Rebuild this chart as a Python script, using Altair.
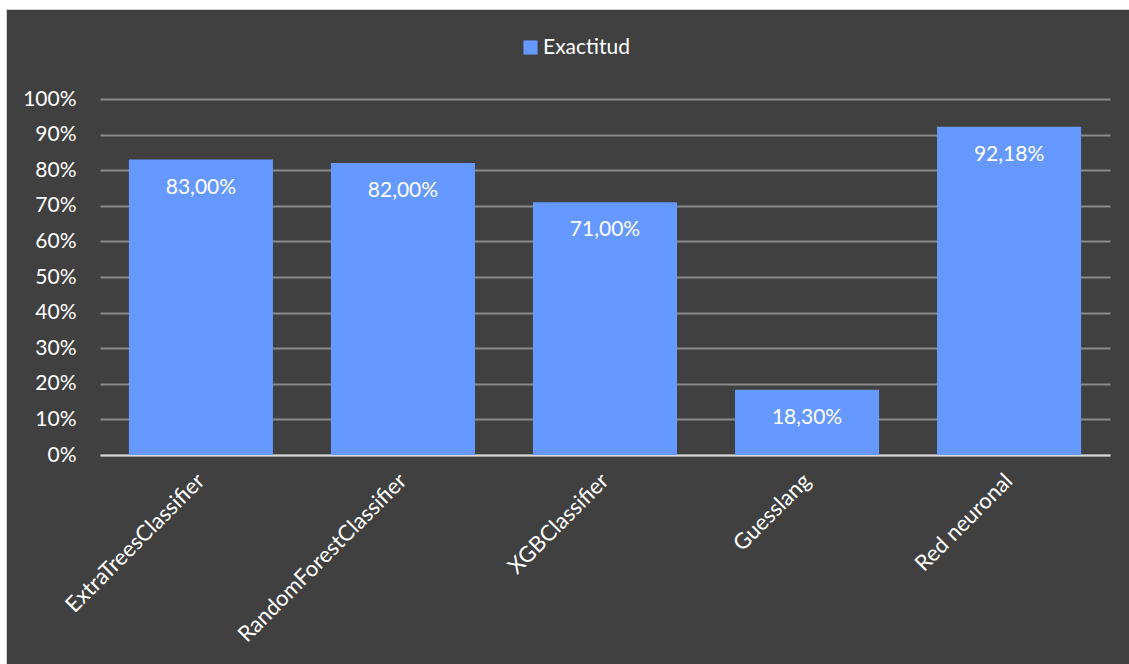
import altair as alt
import pandas as pd

models = ["ExtraTreesClassifier", "RandomForestClassifier", "XGBClassifier", "Guesslang", "Red neuronal"]
accuracy_pct = [83.00, 82.00, 71.00, 18.30, 92.18]
series_name = "Exactitud"
y_ticks = [0, 0.1, 0.2, 0.3, 0.4, 0.5, 0.6, 0.7, 0.8, 0.9, 1.0]

df = pd.DataFrame({"modelo": models, "pct": accuracy_pct, "serie": [series_name] * len(models)})

FONT = "Lato"
W, H = 1010, 356
PAD_L, PAD_T = 100, 99

base = alt.Chart(df).transform_calculate(
    frac="datum.pct / 100",
    etiqueta="replace(format(datum.pct / 100, '.2%'), '.', ',')",
)

x_axis = alt.Axis(
    labelAngle=-45,
    labelAlign="right",
    labelBaseline="middle",
    labelFontSize=22,
    labelColor="#ffffff",
    labelFont=FONT,
    labelLimit=0,
    labelOverlap=False,
    ticks=False,
    labelPadding=22,
    domainColor="#d9d9d9",
    domainWidth=2,
    grid=False,
)
y_axis = alt.Axis(
    values=y_ticks,
    format=".0%",
    labelFontSize=21,
    labelColor="#ffffff",
    labelFont=FONT,
    labelOverlap=False,
    ticks=False,
    domain=False,
    labelPadding=24,
    gridColor="#8a8a8a",
    gridWidth=2,
)
x_scale = alt.Scale(paddingInner=0.287, paddingOuter=0.143)
y_scale = alt.Scale(domain=[0, 1], nice=False)

bars = base.mark_bar(color="#6699FF").encode(
    x=alt.X("modelo:N", sort=None, title=None, scale=x_scale, axis=x_axis),
    y=alt.Y("frac:Q", title=None, scale=y_scale, axis=y_axis),
    color=alt.Color(
        "serie:N",
        scale=alt.Scale(range=["#6699FF"]),
        legend=alt.Legend(
            title=None,
            orient="none",
            legendX=420,
            legendY=-62,
            symbolType="square",
            symbolSize=200,
            symbolStrokeWidth=0,
            labelFontSize=21,
            labelColor="#ffffff",
            labelFont=FONT,
            padding=0,
            labelOffset=2,
        ),
    ),
)

labels = base.mark_text(
    color="#ffffff", fontSize=21, font=FONT, baseline="middle", dy=28
).encode(
    x=alt.X("modelo:N", sort=None, title=None, scale=x_scale, axis=x_axis),
    y=alt.Y("frac:Q", title=None, scale=y_scale, axis=y_axis),
    text="etiqueta:N",
)

frame = pd.DataFrame({"k": [0]})
top_strip = alt.Chart(frame).mark_rect(color="#ffffff").encode(
    x=alt.value(-PAD_L), x2=alt.value(1129 - PAD_L), y=alt.value(-PAD_T), y2=alt.value(9 - PAD_T)
)
left_strip = alt.Chart(frame).mark_rect(color="#ffffff").encode(
    x=alt.value(-PAD_L), x2=alt.value(6 - PAD_L), y=alt.value(-PAD_T), y2=alt.value(664 - PAD_T)
)
left_line = alt.Chart(frame).mark_rect(color="#d0d0d0").encode(
    x=alt.value(6 - PAD_L), x2=alt.value(7 - PAD_L), y=alt.value(9 - PAD_T), y2=alt.value(664 - PAD_T)
)
top_line = alt.Chart(frame).mark_rect(color="#d0d0d0").encode(
    x=alt.value(6 - PAD_L), x2=alt.value(1129 - PAD_L), y=alt.value(9 - PAD_T), y2=alt.value(10 - PAD_T)
)

chart = alt.layer(bars, labels, top_strip, left_strip, left_line, top_line).properties(
    width=W,
    height=H,
    background="#404040",
    padding={"left": PAD_L, "top": PAD_T, "right": 1129 - PAD_L - W, "bottom": 664 - PAD_T - H},
    autosize=alt.AutoSizeParams(type="none"),
).configure_view(stroke=None)

chart.save("out.html", embed_options={"renderer": "svg", "actions": False})
